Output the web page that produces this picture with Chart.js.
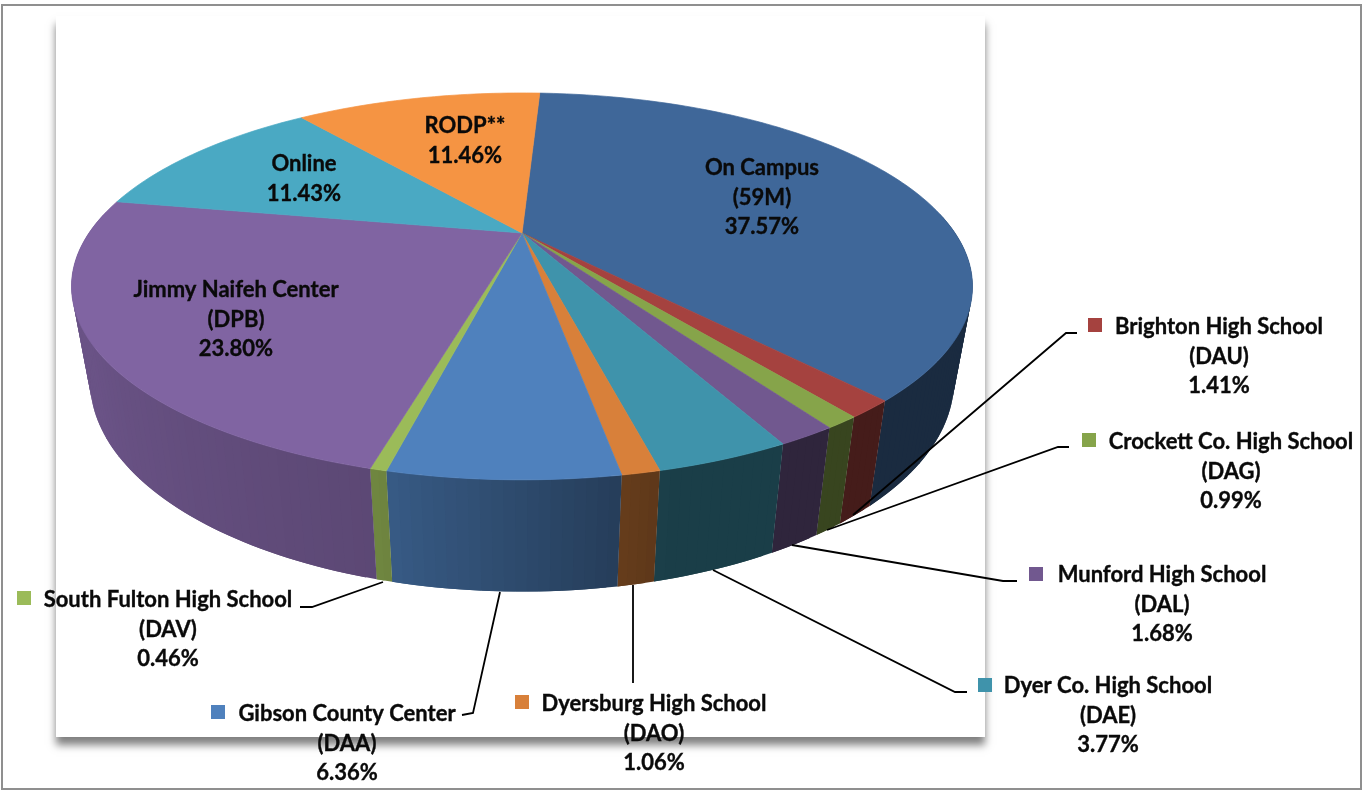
<!DOCTYPE html>
<html>
<head>
<meta charset="utf-8">
<title>Enrollment by location</title>
<script src="https://cdn.jsdelivr.net/npm/chart.js@4/dist/chart.umd.min.js"></script>
<style>
  html, body { margin: 0; padding: 0; background: #fff; }
  canvas { display: block; }
</style>
</head>
<body>
<canvas id="pie" width="1364" height="792"></canvas>
<script>
// DATA
const categories = ['On Campus', 'Brighton High School', 'Crockett Co. High School', 'Munford High School',
  'Dyer Co. High School', 'Dyersburg High School', 'Gibson County Center', 'South Fulton High School',
  'Jimmy Naifeh Center', 'Online', 'RODP**'];
const codes = ['(59M)', '(DAU)', '(DAG)', '(DAL)', '(DAE)', '(DAO)', '(DAA)', '(DAV)', '(DPB)', '', ''];
const shares = [37.57, 1.41, 0.99, 1.68, 3.77, 1.06, 6.36, 0.46, 23.80, 11.43, 11.46];

// STYLE
const sliceColors = ['#3F6799', '#A5423F', '#86A44A', '#71588F', '#3F93AB', '#D8803A', '#4F81BD', '#9BBB59',
  '#8064A2', '#4AA9C3', '#F59443'];

// LABEL LAYOUT: text centre x, first line centre y, optional swatch, optional leader line
const labelLayout = [
  { x: 762, y: 168 },
  { x: 1219, y: 327, box: [1088, 318], leader: [[1077, 333], [1066, 333], [853, 515]] },
  { x: 1231, y: 442, box: [1082, 433], leader: [[1069, 447], [1058, 447], [827, 530]] },
  { x: 1162, y: 575, box: [1029, 567], leader: [[1017, 581], [1003, 581], [792, 545]] },
  { x: 1108, y: 686, box: [978, 678], leader: [[967, 692], [955, 692], [713, 570]] },
  { x: 654, y: 704, box: [515, 695], leader: [[633, 683], [633, 585]] },
  { x: 347, y: 714, box: [211, 705], leader: [[462, 715], [473, 713], [500, 592]] },
  { x: 168, y: 600, box: [17, 591], leader: [[300, 607], [312, 607], [383, 582]] },
  { x: 236, y: 290 },
  { x: 304, y: 164 },
  { x: 465, y: 126 }
];

// perspective of the two faces of the disc, fitted on the slice boundaries
const TOP_FACE = { cx: 522, cy: 233, R: 433, H: 178.7, k: 0.276 };
const BOTTOM_FACE = { cx: 522, cy: 323, R: 415.5, H: 195, k: 0.274 };
const LINE_HEIGHT = 29.7;
// wall brightness by angle in degrees, clockwise from the right
const WALL_STOPS = [[0, 0.42], [75, 0.42], [90, 0.57], [105, 0.72], [150, 0.83], [270, 0.83]];

function project(face, angle) {
  const s = 1 / (1 - face.k * Math.sin(angle));
  return [face.cx + face.R * Math.cos(angle) * s, face.cy + face.H * Math.sin(angle) * s];
}

function shade(hex, f) {
  const n = parseInt(hex.slice(1), 16);
  const r = Math.round((n >> 16) * f);
  const g = Math.round(((n >> 8) & 255) * f);
  const b = Math.round((n & 255) * f);
  return `rgb(${r},${g},${b})`;
}

function wallShade(angle) {
  let deg = angle * 180 / Math.PI % 360;
  if (deg < 0) deg += 360;
  if (deg > 270) return 0.42;
  for (let i = 1; i < WALL_STOPS.length; i++) {
    const [d0, f0] = WALL_STOPS[i - 1];
    const [d1, f1] = WALL_STOPS[i];
    if (deg <= d1) return f0 + (f1 - f0) * (deg - d0) / (d1 - d0);
  }
  return 0.42;
}

function tracePath(ctx, points) {
  ctx.beginPath();
  points.forEach((p, i) => i ? ctx.lineTo(p[0], p[1]) : ctx.moveTo(p[0], p[1]));
}

const pie3d = {
  id: 'pie3d',
  beforeDraw(chart) {
    const ctx = chart.ctx;
    ctx.save();
    // outer frame
    ctx.strokeStyle = '#8f8f8f';
    ctx.lineWidth = 2;
    ctx.strokeRect(2, 5, 1359, 784);
    // paper behind the pie
    ctx.shadowColor = 'rgba(0,0,0,0.5)';
    ctx.shadowBlur = 8;
    ctx.shadowOffsetY = 8;
    ctx.fillStyle = '#fff';
    ctx.fillRect(56, 16, 929, 721);
    ctx.restore();
  },
  beforeDatasetDraw(chart, args) {
    const ctx = chart.ctx;
    const arcs = args.meta.data;
    ctx.save();
    // side walls first, the top face covers whatever is behind it
    arcs.forEach((arc, i) => {
      const span = arc.endAngle - arc.startAngle;
      const steps = Math.max(2, Math.ceil(span / 0.02));
      for (let n = 0; n < steps; n++) {
        const a = arc.startAngle + span * n / steps;
        const b = arc.startAngle + span * (n + 1) / steps;
        if (Math.sin((a + b) / 2) < -0.1) continue;
        // runs a little into the next strip so no seams show, except on the last one
        const c = n < steps - 1 ? b + span / steps : b;
        tracePath(ctx, [project(TOP_FACE, a), project(TOP_FACE, c), project(BOTTOM_FACE, c), project(BOTTOM_FACE, a)]);
        ctx.closePath();
        ctx.fillStyle = shade(sliceColors[i], wallShade((a + b) / 2));
        ctx.fill();
      }
    });
    arcs.forEach((arc, i) => {
      const span = arc.endAngle - arc.startAngle;
      const steps = Math.max(2, Math.ceil(span / 0.02));
      const pts = [[TOP_FACE.cx, TOP_FACE.cy]];
      for (let n = 0; n <= steps; n++) {
        pts.push(project(TOP_FACE, arc.startAngle + span * n / steps));
      }
      tracePath(ctx, pts);
      ctx.closePath();
      ctx.fillStyle = sliceColors[i];
      ctx.strokeStyle = sliceColors[i];
      ctx.lineWidth = 0.7;
      ctx.fill();
      ctx.stroke();
    });
    ctx.restore();
    return false;
  },
  afterDatasetsDraw(chart) {
    const ctx = chart.ctx;
    ctx.save();
    ctx.font = 'bold 22px Lato';
    ctx.textAlign = 'center';
    ctx.textBaseline = 'middle';
    categories.forEach((name, i) => {
      const spot = labelLayout[i];
      const lines = [name, codes[i], shares[i].toFixed(2) + '%'].filter(Boolean);
      ctx.fillStyle = '#0a0a0a';
      ctx.strokeStyle = '#0a0a0a';
      ctx.lineWidth = 0.35;
      lines.forEach((line, n) => {
        ctx.fillText(line, spot.x, spot.y + n * LINE_HEIGHT);
        ctx.strokeText(line, spot.x, spot.y + n * LINE_HEIGHT);
      });
      if (spot.box) {
        ctx.fillStyle = sliceColors[i];
        ctx.fillRect(spot.box[0], spot.box[1], 14, 14);
      }
      if (spot.leader) {
        ctx.strokeStyle = '#000';
        ctx.lineWidth = 1.8;
        tracePath(ctx, spot.leader);
        ctx.stroke();
      }
    });
    ctx.restore();
  }
};

new Chart(document.getElementById('pie'), {
  type: 'pie',
  data: {
    labels: categories,
    datasets: [{ data: shares, backgroundColor: sliceColors, borderWidth: 0 }]
  },
  options: {
    responsive: false,
    animation: false,
    rotation: 3,
    plugins: { legend: { display: false }, tooltip: { enabled: false } }
  },
  plugins: [pie3d]
});
</script>
</body>
</html>
